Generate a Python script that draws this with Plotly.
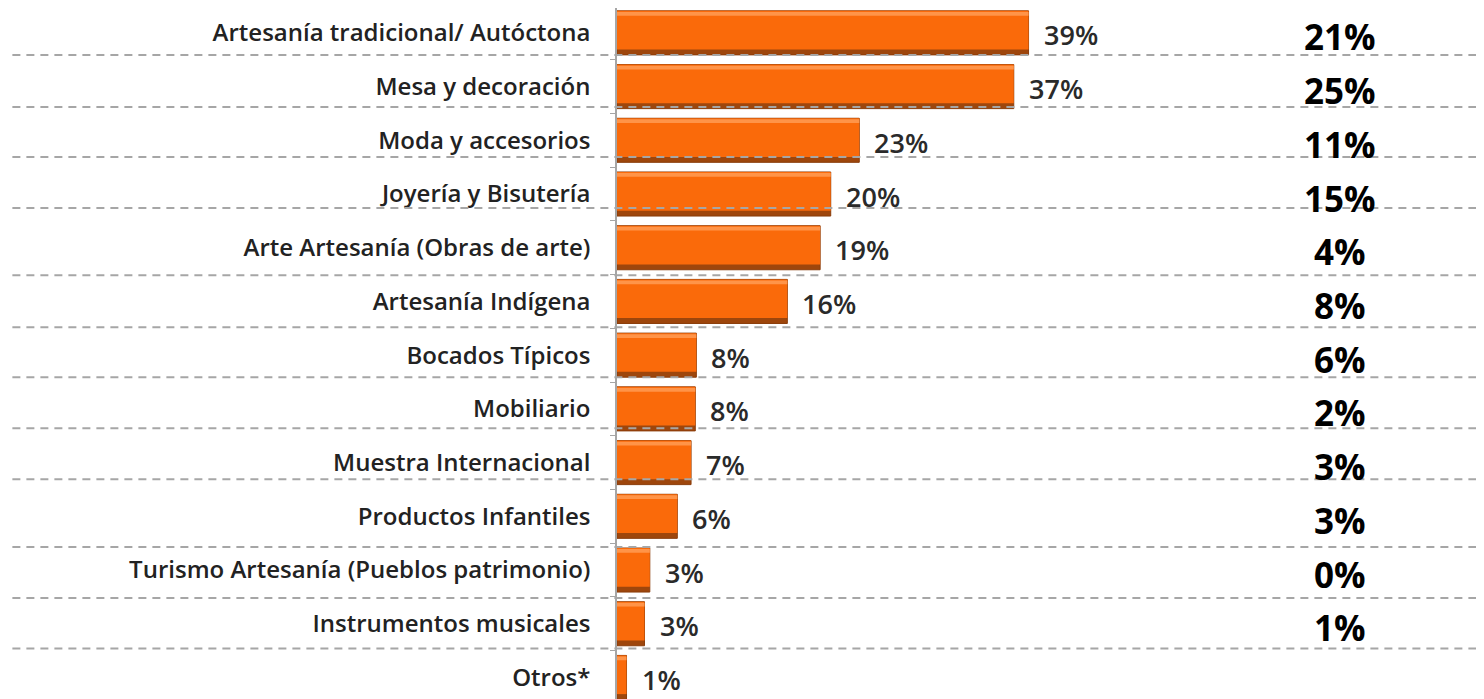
import plotly.graph_objects as go

categories = ['Artesanía tradicional/ Autóctona', 'Mesa y decoración', 'Moda y accesorios',
              'Joyería y Bisutería', 'Arte Artesanía (Obras de arte)', 'Artesanía Indígena',
              'Bocados Típicos', 'Mobiliario', 'Muestra Internacional', 'Productos Infantiles',
              'Turismo Artesanía (Pueblos patrimonio)', 'Instrumentos musicales', 'Otros*']
share = [38.9, 37.5, 22.9, 20.2, 19.2, 16.1, 7.5, 7.4, 7.0, 5.7, 3.1, 2.6, 0.9]
share_labels = ['39%', '37%', '23%', '20%', '19%', '16%', '8%', '8%', '7%', '6%', '3%', '3%', '1%']
right_labels = ['21%', '25%', '11%', '15%', '4%', '8%', '6%', '2%', '3%', '3%', '0%', '1%']

# dashed separators (category units, 0 = first row)
grid_rows = [0.41, 1.38, 2.31, 3.26, 4.51, 5.48, 6.41, 7.36, 8.31, 9.57, 10.52, 11.46]

font_dict = dict(family='Open Sans', size=24, color='#222222')

fig = go.Figure()
# dark base gives the shaded bottom edge
fig.add_trace(go.Bar(
    y=categories, x=share, orientation='h', width=0.82,
    marker=dict(color='#9E460C', line=dict(color='#8A3C0A', width=1)),
    hoverinfo='skip'
))
# main orange face
fig.add_trace(go.Bar(
    y=categories, x=share, orientation='h', width=0.72, offset=-0.41,
    marker=dict(color='#FA6A0A', line=dict(width=0)),
    hoverinfo='skip'
))
# light highlight on the top edge
fig.add_trace(go.Bar(
    y=categories, x=share, orientation='h', width=0.07, offset=-0.39,
    marker=dict(color='#FF9448', line=dict(width=0)),
    hoverinfo='skip'
))

for cat, v, lab in zip(categories, share, share_labels):
    fig.add_annotation(x=v, y=cat, text=lab, xanchor='left', xshift=13, yshift=-2,
                       showarrow=False, font=dict(family='Open Sans', size=27, color='#2a2a2a', weight=600))

for i, lab in enumerate(right_labels):
    fig.add_annotation(x=0.826, xref='paper', xanchor='center', y=i, yref='y', text=lab, yshift=-4,
                       showarrow=False, font=dict(family='Open Sans', size=35, color='black', weight='bold'))

for g in grid_rows:
    fig.add_shape(type='line', xref='paper', yref='y', x0=-0.691, x1=1, y0=g, y1=g,
                  line=dict(color='#A6A6A6', width=2, dash='8px,6px'), layer='above')

fig.update_layout(
    width=1484, height=699,
    font=font_dict,
    plot_bgcolor='white',
    paper_bgcolor='white',
    margin=dict(l=609, r=0, t=0, b=0),
    barmode='overlay',
    showlegend=False
)
fig.update_yaxes(
    type='category', automargin=False,
    range=[12.55, -0.463],
    showline=True, linecolor='#A6A6A6', linewidth=1.5,
    ticks='outside', tickson='boundaries', ticklen=5, tickcolor='#A6A6A6',
    tickfont=dict(family='Open Sans', size=24, color='#222222', weight=600),
    ticklabelstandoff=20,
    showgrid=False
)
fig.update_xaxes(
    range=[0, 875 / 10.58], automargin=False,
    visible=False, showgrid=False, zeroline=False
)

fig.write_html("out.html")
